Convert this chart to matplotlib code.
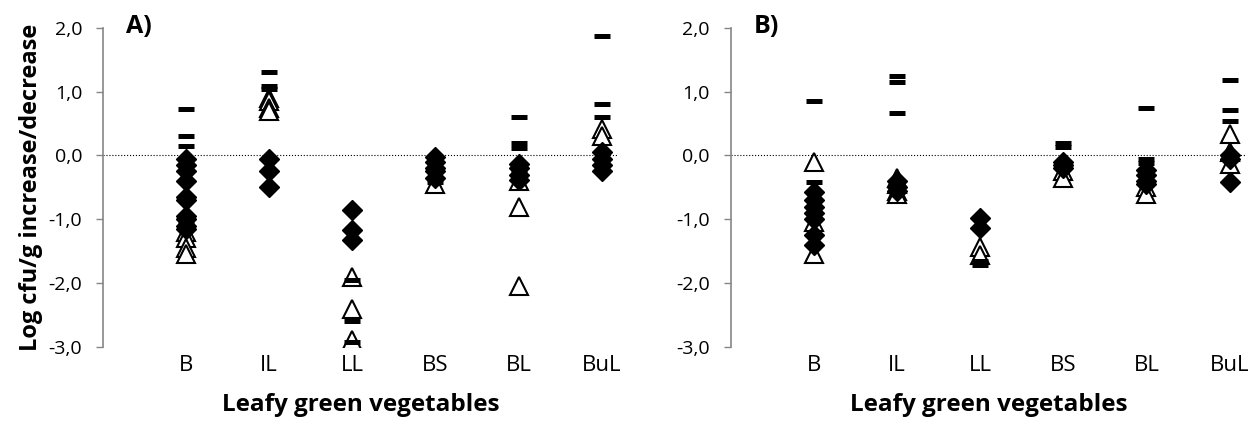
import numpy as np
import matplotlib.pyplot as plt
from matplotlib import rcParams

rcParams['font.family'] = 'Open Sans'

categories = ['B', 'IL', 'LL', 'BS', 'BL', 'BuL']

# panel A) values per category: diamonds (filled), triangles (open), dashes
a_diamond = [
    [-0.05, -0.15, -0.25, -0.4, -0.65, -0.7, -0.95, -1.0, -1.1, -1.15],
    [-0.05, -0.25, -0.5],
    [-0.85, -1.17, -1.33],
    [-0.03, -0.1, -0.2, -0.25, -0.35],
    [-0.13, -0.2, -0.3, -0.38],
    [0.05, -0.05, -0.15, -0.25],
]
a_triangle = [
    [-1.2, -1.3, -1.45, -1.55],
    [0.9, 0.85, 0.75, 0.7],
    [-1.9, -2.4, -2.9],
    [-0.45],
    [-0.4, -0.8, -2.05],
    [0.42, 0.31],
]
a_dash = [
    [0.73, 0.31, 0.15, -1.05, -1.15],
    [1.31, 1.09, 1.05],
    [-1.95, -2.6, -2.92],
    [-0.42],
    [0.6, 0.19, 0.11, -0.25],
    [1.88, 0.8, 0.6],
]

# panel B)
b_diamond = [
    [-0.58, -0.7, -0.8, -0.9, -1.0, -1.25, -1.4],
    [-0.4, -0.5, -0.55],
    [-0.98, -1.14],
    [-0.1, -0.15, -0.2],
    [-0.23, -0.3, -0.4, -0.45],
    [0.0, -0.05, -0.42],
]
b_triangle = [
    [-0.1, -1.05, -1.55],
    [-0.35, -0.45, -0.55, -0.6],
    [-1.43, -1.56],
    [-0.25, -0.35],
    [-0.5, -0.6],
    [0.33, 0.05, -0.13],
]
b_dash = [
    [0.86, -0.42],
    [1.25, 1.15, 0.67],
    [-1.65, -1.72],
    [0.19, 0.13],
    [0.75, -0.05, -0.12],
    [1.19, 0.72, 0.54],
]

fig = plt.figure(figsize=(12.6, 4.23), dpi=100)
ax1 = fig.add_axes([0.0817, 0.18, 0.409, 0.754])
ax2 = fig.add_axes([0.580, 0.18, 0.409, 0.754])

panels = [(ax1, a_diamond, a_triangle, a_dash, 'A)'),
          (ax2, b_diamond, b_triangle, b_dash, 'B)')]

yt = np.arange(-3, 2.1, 1)
for ax, dia, tri, dash, lab in panels:
    ax.axhline(0, color='black', linestyle=':', linewidth=0.8, zorder=1)
    for i in range(len(categories)):
        x = i + 1
        ax.plot([x] * len(tri[i]), tri[i], linestyle='none', marker='^', markersize=13,
                markerfacecolor='white', markeredgecolor='black', markeredgewidth=1.5, zorder=2)
        ax.plot([x] * len(dia[i]), dia[i], linestyle='none', marker='D', markersize=10,
                color='black', zorder=3)
        ax.plot([x] * len(dash[i]), dash[i], linestyle='none', marker='_', markersize=11,
                markeredgewidth=3.6, color='black', zorder=4)
    ax.set_xlim(0, 6.2)
    ax.set_ylim(-3, 2)
    ax.set_yticks(yt)
    ax.set_yticklabels([f'{v:.1f}'.replace('.', ',') for v in yt], fontsize=14)
    ax.set_xticks(range(1, 7))
    ax.set_xticklabels(categories, fontsize=16)
    ax.tick_params(axis='x', length=0, pad=6)
    ax.tick_params(axis='y', length=5, color='#868686', width=1, pad=10)
    for s in ['top', 'right', 'bottom']:
        ax.spines[s].set_visible(False)
    ax.spines['left'].set_color('#868686')
    ax.spines['left'].set_linewidth(1.2)
    ax.set_xlabel('Leafy green vegetables', fontsize=17.5, fontweight='bold', labelpad=12)
    ax.text(0.045, 1.003, lab, transform=ax.transAxes, fontsize=18, fontweight='bold', va='center')

ax1.set_ylabel('Log cfu/g increase/decrease', fontsize=17, fontweight='bold', labelpad=4)

plt.savefig('out.png', dpi=100)
